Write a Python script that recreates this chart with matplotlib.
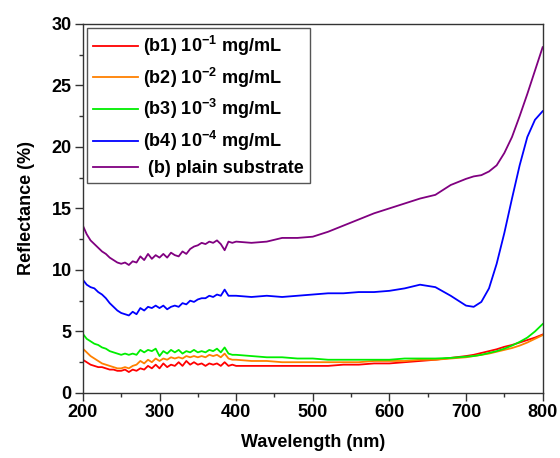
import numpy as np
import matplotlib
matplotlib.use('Agg')
import matplotlib.pyplot as plt
from matplotlib.ticker import MultipleLocator

plt.rcParams['font.family'] = ['Liberation Sans', 'DejaVu Sans']
plt.rcParams['font.weight'] = 'bold'
plt.rcParams['mathtext.fontset'] = 'custom'
plt.rcParams['mathtext.rm'] = 'Liberation Sans:bold'
plt.rcParams['mathtext.default'] = 'rm'

# wavelength grid (nm): fine in the noisy UV part, coarser after 400 nm
wl = list(range(200, 405, 5)) + [420, 440, 460, 480, 500, 520, 540, 560, 580, 600,
                                   620, 640, 660, 680, 700, 710, 720, 730, 740, 750,
                                   760, 770, 780, 790, 800]

# reflectance (%)
b1 = [2.7, 2.5, 2.3, 2.2, 2.1, 2.1, 2.0, 1.9, 1.9, 1.8, 1.8, 1.9, 1.7, 1.9, 1.8, 2.0,
      1.9, 2.2, 2.0, 2.3, 2.0, 2.4, 2.1, 2.3, 2.2, 2.5, 2.2, 2.6, 2.3, 2.5, 2.3, 2.4,
      2.2, 2.4, 2.3, 2.4, 2.2, 2.5, 2.2, 2.3, 2.2,
      2.2, 2.2, 2.2, 2.2, 2.2, 2.2, 2.3, 2.3, 2.4, 2.4, 2.5, 2.6, 2.7, 2.85, 3.0, 3.1,
      3.25, 3.4, 3.55, 3.75, 3.9, 4.1, 4.3, 4.5, 4.75]
b2 = [3.6, 3.3, 3.0, 2.8, 2.6, 2.4, 2.3, 2.2, 2.1, 2.0, 2.0, 2.1, 2.0, 2.2, 2.3, 2.6,
      2.4, 2.7, 2.5, 2.8, 2.6, 2.8, 2.7, 2.9, 2.8, 2.9, 2.8, 3.0, 2.9, 3.0, 2.9, 3.0,
      2.9, 3.1, 3.0, 3.1, 2.9, 3.2, 2.8, 2.7, 2.7,
      2.6, 2.6, 2.5, 2.5, 2.5, 2.5, 2.5, 2.5, 2.6, 2.6, 2.6, 2.7, 2.7, 2.8, 2.9, 3.0,
      3.1, 3.2, 3.35, 3.5, 3.65, 3.85, 4.1, 4.4, 4.7]
b3 = [4.8, 4.4, 4.2, 4.0, 3.9, 3.7, 3.6, 3.4, 3.3, 3.2, 3.1, 3.2, 3.1, 3.2, 3.1, 3.5,
      3.3, 3.5, 3.4, 3.6, 3.0, 3.4, 3.2, 3.5, 3.3, 3.5, 3.2, 3.4, 3.3, 3.5, 3.3, 3.4,
      3.3, 3.5, 3.4, 3.6, 3.3, 3.7, 3.2, 3.1, 3.1,
      3.0, 2.9, 2.9, 2.8, 2.8, 2.7, 2.7, 2.7, 2.7, 2.7, 2.8, 2.8, 2.8, 2.85, 2.95, 3.0,
      3.1, 3.25, 3.4, 3.6, 3.85, 4.15, 4.5, 5.0, 5.6]
b4 = [9.2, 8.8, 8.6, 8.5, 8.2, 8.0, 7.7, 7.3, 7.0, 6.7, 6.5, 6.4, 6.3, 6.6, 6.4, 6.9,
      6.7, 7.0, 6.9, 7.1, 6.9, 7.1, 6.8, 7.0, 7.1, 7.0, 7.3, 7.2, 7.5, 7.4, 7.6, 7.7,
      7.7, 7.9, 7.8, 8.0, 7.9, 8.4, 7.9, 7.9, 7.9,
      7.8, 7.9, 7.8, 7.9, 8.0, 8.1, 8.1, 8.2, 8.2, 8.3, 8.5, 8.8, 8.6, 7.9, 7.1, 7.0,
      7.4, 8.5, 10.5, 13.0, 15.8, 18.5, 20.8, 22.2, 22.9]
plain = [13.6, 12.9, 12.4, 12.1, 11.8, 11.5, 11.3, 11.0, 10.8, 10.6, 10.5, 10.6, 10.4,
         10.7, 10.6, 11.1, 10.8, 11.3, 10.9, 11.2, 11.0, 11.3, 11.0, 11.4, 11.2, 11.1,
         11.5, 11.3, 11.7, 11.9, 12.0, 12.2, 12.1, 12.3, 12.2, 12.4, 12.1, 11.6, 12.3,
         12.2, 12.3,
         12.2, 12.3, 12.6, 12.6, 12.7, 13.1, 13.6, 14.1, 14.6, 15.0, 15.4, 15.8, 16.1,
         16.9, 17.4, 17.6, 17.7, 18.0, 18.5, 19.5, 20.8, 22.5, 24.3, 26.2, 28.1]

labels = [r'(b1) 10$^{-1}$ mg/mL', r'(b2) 10$^{-2}$ mg/mL', r'(b3) 10$^{-3}$ mg/mL',
          r'(b4) 10$^{-4}$ mg/mL', ' (b) plain substrate']
colors = ['#ff0000', '#ff8000', '#00ee00', '#0000ff', '#800080']

fig = plt.figure(figsize=(5.6, 4.58), dpi=100)
ax = fig.add_axes([0.148, 0.142, 0.821, 0.806])

for y, lab, c in zip([b1, b2, b3, b4, plain], labels, colors):
    ax.plot(wl, y, color=c, linewidth=1.3, label=lab)

ax.set_xlim(200, 800)
ax.set_ylim(0, 30)
ax.xaxis.set_major_locator(MultipleLocator(100))
ax.xaxis.set_minor_locator(MultipleLocator(50))
ax.yaxis.set_major_locator(MultipleLocator(5))
ax.yaxis.set_minor_locator(MultipleLocator(2.5))
ax.tick_params(which='both', direction='out', top=False, right=False,
               labelsize=13, width=1, color='#333333', pad=2)
ax.tick_params(which='major', length=6)
ax.tick_params(which='minor', length=3)
for s in ax.spines.values():
    s.set_color('#333333')
    s.set_linewidth(1)

ax.set_xlabel('Wavelength (nm)', fontsize=13, fontweight='bold', labelpad=9)
ax.set_ylabel('Reflectance (%)', fontsize=13, fontweight='bold', labelpad=12)

leg = ax.legend(loc='upper left', fontsize=13, fancybox=False, edgecolor='#555555',
                handlelength=2.5, handletextpad=0.3, borderaxespad=0.25,
                labelspacing=0.42, borderpad=0.3)
leg.get_frame().set_linewidth(1)
leg.get_frame().set_alpha(1)

fig.savefig('out.png', dpi=100)
